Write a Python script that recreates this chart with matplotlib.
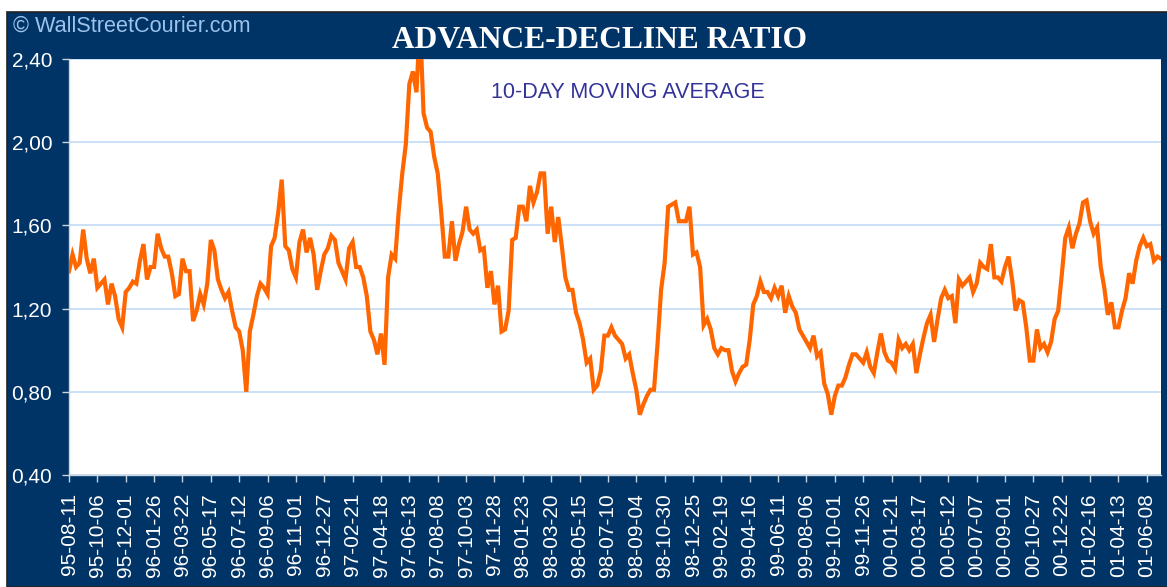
import matplotlib
matplotlib.use("Agg")
import matplotlib.pyplot as plt
from matplotlib.patches import Rectangle

# ---- data (weekly 10-day moving average of the advance-decline ratio) ----
ratio = [
    1.38, 1.46, 1.40, 1.42, 1.58, 1.44, 1.37, 1.44, 1.30, 1.32,
    1.34, 1.22, 1.32, 1.26, 1.15, 1.11, 1.28, 1.30, 1.33, 1.32,
    1.43, 1.51, 1.34, 1.40, 1.40, 1.56, 1.49, 1.45, 1.45, 1.37,
    1.26, 1.27, 1.44, 1.38, 1.38, 1.14, 1.19, 1.27, 1.22, 1.32,
    1.53, 1.48, 1.34, 1.29, 1.25, 1.28, 1.19, 1.11, 1.09, 1.00,
    0.80, 1.09, 1.17, 1.26, 1.32, 1.30, 1.27, 1.50, 1.54, 1.66,
    1.82, 1.50, 1.48, 1.39, 1.35, 1.52, 1.58, 1.47, 1.54, 1.46,
    1.29, 1.38, 1.46, 1.49, 1.55, 1.53, 1.42, 1.38, 1.34, 1.49,
    1.52, 1.40, 1.40, 1.35, 1.26, 1.09, 1.05, 0.98, 1.08, 0.93,
    1.35, 1.46, 1.44, 1.67, 1.85, 1.99, 2.28, 2.34, 2.24, 2.58,
    2.14, 2.07, 2.05, 1.93, 1.85, 1.66, 1.45, 1.45, 1.62, 1.43,
    1.51, 1.57, 1.69, 1.58, 1.56, 1.58, 1.48, 1.49, 1.30, 1.38,
    1.22, 1.31, 1.09, 1.10, 1.19, 1.53, 1.54, 1.69, 1.69, 1.62,
    1.79, 1.71, 1.76, 1.85, 1.85, 1.56, 1.69, 1.52, 1.64, 1.50,
    1.35, 1.29, 1.29, 1.18, 1.13, 1.05, 0.94, 0.96, 0.81, 0.83,
    0.90, 1.07, 1.07, 1.11, 1.07, 1.05, 1.03, 0.96, 0.98, 0.89,
    0.81, 0.69, 0.74, 0.78, 0.81, 0.81, 1.03, 1.29, 1.42, 1.69,
    1.70, 1.71, 1.62, 1.62, 1.62, 1.69, 1.46, 1.47, 1.40, 1.12,
    1.15, 1.10, 1.01, 0.98, 1.01, 1.00, 1.00, 0.90, 0.85, 0.89,
    0.92, 0.93, 1.05, 1.22, 1.26, 1.33, 1.28, 1.28, 1.25, 1.30,
    1.26, 1.31, 1.18, 1.26, 1.21, 1.18, 1.10, 1.07, 1.04, 1.01,
    1.07, 0.97, 0.99, 0.84, 0.79, 0.69, 0.78, 0.83, 0.83, 0.87,
    0.93, 0.98, 0.98, 0.96, 0.94, 0.99, 0.92, 0.89, 0.99, 1.08,
    0.99, 0.95, 0.94, 0.91, 1.05, 1.01, 1.03, 1.00, 1.03, 0.89,
    0.98, 1.06, 1.13, 1.17, 1.04, 1.15, 1.25, 1.29, 1.25, 1.26,
    1.13, 1.34, 1.31, 1.33, 1.35, 1.28, 1.32, 1.42, 1.40, 1.39,
    1.51, 1.35, 1.35, 1.33, 1.40, 1.45, 1.34, 1.19, 1.24, 1.23,
    1.11, 0.95, 0.95, 1.10, 1.01, 1.03, 0.99, 1.04, 1.15, 1.19,
    1.36, 1.54, 1.59, 1.49, 1.56, 1.61, 1.71, 1.72, 1.62, 1.56,
    1.59, 1.40, 1.30, 1.17, 1.23, 1.11, 1.11, 1.19, 1.25, 1.37,
    1.32, 1.43, 1.50, 1.54, 1.50, 1.51, 1.43, 1.45, 1.44,
]

date_labels = [
    "95-08-11", "95-10-06", "95-12-01", "96-01-26", "96-03-22", "96-05-17",
    "96-07-12", "96-09-06", "96-11-01", "96-12-27", "97-02-21", "97-04-18",
    "97-06-13", "97-08-08", "97-10-03", "97-11-28", "98-01-23", "98-03-20",
    "98-05-15", "98-07-10", "98-09-04", "98-10-30", "98-12-25", "99-02-19",
    "99-04-16", "99-06-11", "99-08-06", "99-10-01", "99-11-26", "00-01-21",
    "00-03-17", "00-05-12", "00-07-07", "00-09-01", "00-10-27", "00-12-22",
    "01-02-16", "01-04-13", "01-06-08",
]
label_every = 8  # weeks between labelled dates

y_ticks = [0.40, 0.80, 1.20, 1.60, 2.00, 2.40]

title = "ADVANCE-DECLINE RATIO"
subtitle = "10-DAY MOVING AVERAGE"
credit = "\u00a9 WallStreetCourier.com"

# ---- style ----
NAVY = "#003366"
ORANGE = "#ff6600"
GRID = "#c2dcf5"
SANS = ["Liberation Sans", "DejaVu Sans"]
SERIF = ["Liberation Serif", "DejaVu Serif"]

W, H = 1167, 587
fig = plt.figure(figsize=(W / 100, H / 100), dpi=100)
fig.patch.set_facecolor("white")

# navy frame with thin dark border (white strip at top and left)
frame = Rectangle((7 / W, 0), 1 - 7 / W + 0.01, (H - 12) / H,
                  transform=fig.transFigure, facecolor=NAVY,
                  edgecolor="#222222", linewidth=1.2, zorder=-10)
fig.patches.append(frame)

left, right, top, bottom = 69, 1161, 59, 475
ax = fig.add_axes([left / W, (H - bottom) / H, (right - left) / W, (bottom - top) / H])
ax.set_zorder(1)
ax.set_facecolor("white")

x = list(range(len(ratio)))
ax.plot(x, ratio, color=ORANGE, linewidth=3.0, solid_joinstyle="miter", zorder=3)

ax.set_xlim(0, len(ratio) - 1)
ax.set_ylim(0.40, 2.40)

ax.set_yticks(y_ticks)
ax.set_yticklabels([f"{v:.2f}".replace(".", ",") for v in y_ticks],
                   family=SANS, fontsize=15, color="white")
ax.set_xticks([i * label_every for i in range(len(date_labels))])
ax.set_xticklabels(date_labels, rotation=90, family=SANS, fontsize=15,
                   color="white")

ax.tick_params(axis="both", direction="out", length=5, width=1.0,
               color="#c8d4e0")
ax.tick_params(axis="y", pad=7)
ax.tick_params(axis="x", pad=8)

ax.yaxis.grid(True, color=GRID, linewidth=1.2)
ax.xaxis.grid(False)
ax.set_axisbelow(True)

for s in ["top", "right"]:
    ax.spines[s].set_visible(False)
for s in ["left", "bottom"]:
    ax.spines[s].set_color("#c8d4e0")
    ax.spines[s].set_linewidth(1.0)

# texts
fig.text(600 / W, 1 - 41 / H, title, family=SERIF, fontweight="bold",
         fontsize=22.7, color="white", ha="center", va="center", zorder=5)
ax.text(628 / W, 1 - 92 / H, subtitle, family=SANS, fontsize=15.5,
        color="#333399", ha="center", va="center", transform=fig.transFigure,
        zorder=4)
fig.text(13 / W, 1 - 26 / H, credit, family=SANS, fontsize=15.6,
         color="#9cc3ec", ha="left", va="center", zorder=5)

fig.savefig("out.png", dpi=100, facecolor=fig.get_facecolor())
